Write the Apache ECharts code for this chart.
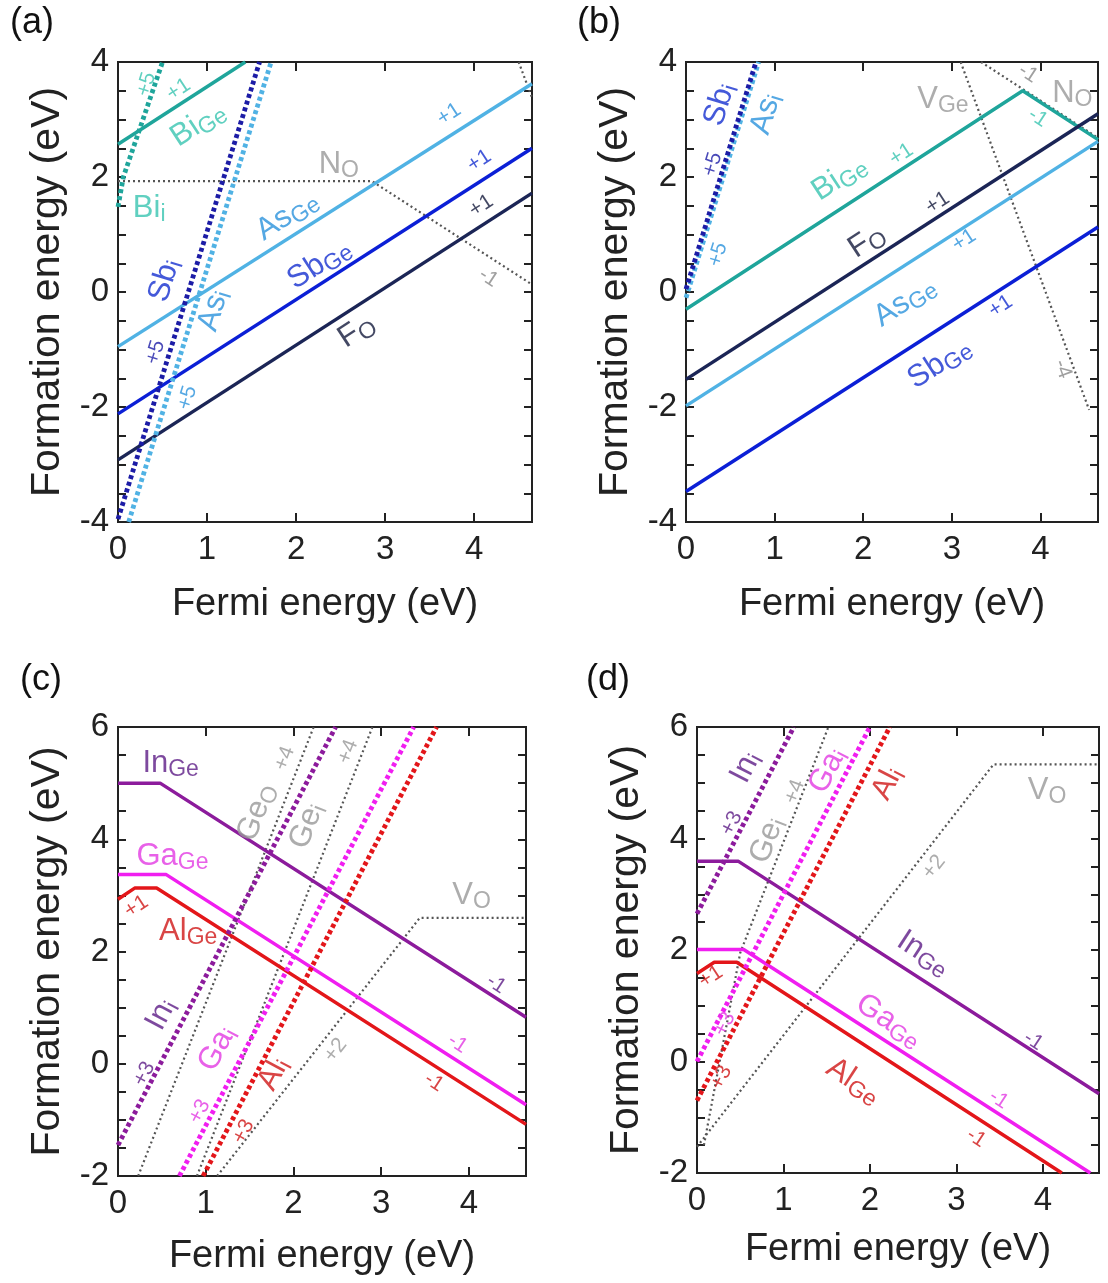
<!DOCTYPE html>
<html><head><meta charset="utf-8">
<script src="https://cdn.jsdelivr.net/npm/echarts@6.0.0/dist/echarts.min.js"></script>
<style>html,body{margin:0;padding:0;background:#fff}#c{width:1108px;height:1283px}</style>
</head><body><div id="c"></div><script>
// ---------- DATA (Fermi energy eV, formation energy eV) ----------
const xTicks = [0, 1, 2, 3, 4];
const xMax = 4.65;
// Panel (a)
const a_BiGe = [[0, 2.57], [1.43, 4.0]];
const a_Bii  = [[0, 1.48], [0.06, 2.0], [0.5, 4.0]];
const a_AsGe = [[0, -0.95], [4.65, 3.62]];
const a_SbGe = [[0, -2.12], [4.65, 2.5]];
const a_FO   = [[0, -2.92], [4.65, 1.72]];
const a_Sbi  = [[0, -3.95], [1.59, 4.0]];
const a_Asi  = [[0.12, -4.0], [1.72, 4.0]];
const a_NO   = [[0, 1.93], [2.85, 1.93], [4.65, 0.13]];
const a_VGe  = [[4.5, 4.0], [4.65, 3.38]];
// Panel (b)
const b_BiGe = [[0, -0.3], [3.8, 3.5], [4.65, 2.65]];
const b_FO   = [[0, -1.52], [4.65, 3.1]];
const b_AsGe = [[0, -1.98], [4.65, 2.62]];
const b_SbGe = [[0, -3.47], [4.65, 1.13]];
const b_Sbi  = [[0, 0.05], [0.79, 4.0]];
const b_Asi  = [[0, -0.1], [0.82, 4.0]];
const b_VGe  = [[3.1, 4.0], [4.55, -2.05]];
const b_NO   = [[3.33, 4.0], [4.65, 2.68]];
// Panel (c)
const c_InGe = [[0, 5.0], [0.48, 5.0], [4.65, 0.83]];
const c_GaGe = [[0, 3.37], [0.55, 3.37], [4.65, -0.73]];
const c_AlGe = [[0, 2.93], [0.19, 3.13], [0.44, 3.13], [4.65, -1.08]];
const c_Ini  = [[0, -1.45], [2.48, 6.0]];
const c_Gai  = [[0.7, -2.0], [3.37, 6.0]];
const c_Ali  = [[0.97, -2.0], [3.63, 6.0]];
const c_GeO  = [[0.23, -2.0], [2.23, 6.0]];
const c_Gei  = [[0.9, -2.0], [2.9, 6.0]];
const c_VO   = [[1.13, -2.0], [3.44, 2.6], [4.65, 2.6]];
// Panel (d)
const d_InGe = [[0, 3.59], [0.48, 3.59], [4.65, -0.58]];
const d_GaGe = [[0, 2.01], [0.54, 2.01], [4.55, -2.0]];
const d_AlGe = [[0, 1.58], [0.2, 1.78], [0.46, 1.78], [4.22, -2.0]];
const d_Ini  = [[0, 2.65], [1.12, 6.0]];
const d_Gai  = [[0, 0.0], [2.0, 6.0]];
const d_Ali  = [[0, -0.7], [2.23, 6.0]];
const d_Gei  = [[0.08, -1.5], [0.5, 1.95], [1.52, 6.0]];
const d_VO   = [[0, -1.53], [3.43, 5.33], [4.65, 5.33]];

// ---------- STYLE ----------
const FONT = 'Liberation Sans, Arial, Helvetica, sans-serif';
const C = {
  teal: '#1fa59b', tealT: '#38c4b0',
  lblue: '#50b2e4', lblueT: '#2a92dc',
  blue: '#0b1fd6', blueT: '#1530d0',
  navy: '#1b2556', navyT: '#141a3c',
  sbi: '#1c1ca6',
  gray: '#555555', grayT: '#999999',
  purple: '#8c1b9c', purpleT: '#5c1c86',
  mag: '#f01ef0', magT: '#e23ae2',
  red: '#e3161a', redT: '#d01616'
};
const grids = [
  {left: 118, top: 62, width: 414, height: 460},
  {left: 686, top: 62, width: 412, height: 460},
  {left: 118, top: 727, width: 408, height: 449},
  {left: 697, top: 727, width: 402, height: 446}
];
const yRanges = [[-4, 4], [-4, 4], [-2, 6], [-2, 6]];
const nameGapsX = [64, 64, 62, 58];

const xAxes = [], yAxes = [];
grids.forEach((g, i) => {
  const axLine = {show: true, onZero: false, lineStyle: {color: '#222', width: 2}};
  const tick = {show: true, inside: true, length: 9, lineStyle: {color: '#222', width: 2}};
  xAxes.push({gridIndex: i, type: 'value', min: 0, max: xMax, interval: 1, position: 'bottom',
    axisLine: axLine, axisTick: tick, splitLine: {show: false},
    axisLabel: {fontSize: 33, color: '#222', margin: 11, fontFamily: FONT,
      formatter: v => xTicks.indexOf(Math.round(v * 1000) / 1000) >= 0 ? String(Math.round(v)) : ''},
    name: 'Fermi energy (eV)', nameLocation: 'middle', nameGap: nameGapsX[i],
    nameTextStyle: {fontSize: 38, color: '#222', fontFamily: FONT}});
  xAxes.push({gridIndex: i, type: 'value', min: 0, max: xMax, interval: 1, position: 'top',
    axisLine: axLine, axisTick: tick, splitLine: {show: false}, axisLabel: {show: false}});
  yAxes.push({gridIndex: i, type: 'value', min: yRanges[i][0], max: yRanges[i][1], interval: 0.5, position: 'left',
    axisLine: axLine, axisTick: Object.assign({}, tick, {length: 8}), splitLine: {show: false},
    axisLabel: {fontSize: 33, color: '#222', margin: 9, fontFamily: FONT,
      formatter: v => (Math.abs(v / 2 - Math.round(v / 2)) < 1e-6 ? String(v) : '')},
    name: 'Formation energy (eV)', nameLocation: 'middle', nameGap: 50, nameRotate: 90,
    nameTextStyle: {fontSize: 41, color: '#222', fontFamily: FONT}});
  yAxes.push({gridIndex: i, type: 'value', min: yRanges[i][0], max: yRanges[i][1], interval: 0.5, position: 'right',
    axisLine: axLine, axisTick: Object.assign({}, tick, {length: 8}), splitLine: {show: false}, axisLabel: {show: false}});
});

const series = [];
function ln(p, data, color, kind, z) {
  let ls;
  if (kind === 'solid') ls = {color, width: 3.5, type: 'solid'};
  else if (kind === 'dash') ls = {color, width: 4.8, type: [4, 3]};
  else ls = {color, width: 2.2, type: [2, 3]};
  series.push({type: 'line', xAxisIndex: 2 * p, yAxisIndex: 2 * p, data, showSymbol: false, symbol: 'none',
    silent: true, lineStyle: ls, z: z || 2, animation: false});
}
// (a)
ln(0, a_NO, C.gray, 'dot'); ln(0, a_VGe, C.gray, 'dot');
ln(0, a_BiGe, C.teal, 'solid'); ln(0, a_Bii, C.teal, 'dash');
ln(0, a_AsGe, C.lblue, 'solid'); ln(0, a_SbGe, C.blue, 'solid'); ln(0, a_FO, C.navy, 'solid');
ln(0, a_Asi, C.lblue, 'dash', 3); ln(0, a_Sbi, C.sbi, 'dash', 3);
// (b)
ln(1, b_VGe, C.gray, 'dot'); ln(1, b_NO, C.gray, 'dot');
ln(1, b_BiGe, C.teal, 'solid'); ln(1, b_FO, C.navy, 'solid'); ln(1, b_AsGe, C.lblue, 'solid'); ln(1, b_SbGe, C.blue, 'solid');
ln(1, b_Asi, C.lblue, 'dash', 3); ln(1, b_Sbi, C.sbi, 'dash', 3);
// (c)
ln(2, c_GeO, C.gray, 'dot'); ln(2, c_Gei, C.gray, 'dot'); ln(2, c_VO, C.gray, 'dot');
ln(2, c_InGe, C.purple, 'solid'); ln(2, c_GaGe, C.mag, 'solid'); ln(2, c_AlGe, C.red, 'solid');
ln(2, c_Ini, C.purple, 'dash', 3); ln(2, c_Gai, C.mag, 'dash', 3); ln(2, c_Ali, C.red, 'dash', 3);
// (d)
ln(3, d_Gei, C.gray, 'dot'); ln(3, d_VO, C.gray, 'dot');
ln(3, d_InGe, C.purple, 'solid'); ln(3, d_GaGe, C.mag, 'solid'); ln(3, d_AlGe, C.red, 'solid');
ln(3, d_Ini, C.purple, 'dash', 3); ln(3, d_Gai, C.mag, 'dash', 3); ln(3, d_Ali, C.red, 'dash', 3);

// ---------- ANNOTATIONS: [text, x, y, rotate, color] ----------
const sp = (a, b) => '{m|' + a + '}{s|' + b + '}';
const notes = [
  [ // (a)
    [sp('Bi', 'Ge'), 0.9, 2.92, 33, C.tealT], [sp('Bi', 'i'), 0.35, 1.45, 0, C.tealT],
    [sp('N', 'O'), 2.48, 2.22, 0, C.grayT], [sp('As', 'Ge'), 1.9, 1.33, 33, C.lblueT],
    [sp('Sb', 'Ge'), 2.26, 0.49, 33, C.blueT], [sp('F', 'O'), 2.68, -0.68, 33, C.navyT],
    [sp('Sb', 'i'), 0.52, 0.2, 73, C.blueT], [sp('As', 'i'), 1.07, -0.32, 73, C.lblueT],
    ['+5', 0.32, 3.61, 73, C.tealT], ['+1', 0.68, 3.52, 33, C.tealT],
    ['+1', 3.72, 3.09, 33, C.lblueT], ['+1', 4.06, 2.28, 33, C.blueT], ['+1', 4.08, 1.5, 33, C.navyT],
    ['-1', 4.16, 0.25, -33, '#888'], ['+5', 0.42, -1.05, 73, C.sbi], ['+5', 0.78, -1.84, 73, C.lblueT]
  ],
  [ // (b)
    [sp('Sb', 'i'), 0.38, 3.26, 73, C.blueT], [sp('As', 'i'), 0.9, 3.1, 73, C.lblueT],
    ['+5', 0.3, 2.22, 73, C.sbi], ['+5', 0.36, 0.65, 73, C.lblueT],
    [sp('V', 'Ge'), 2.9, 3.35, 0, C.grayT], ['-1', 3.86, 3.8, -33, '#888'],
    [sp('N', 'O'), 4.36, 3.46, 0, C.grayT], ['-1', 3.97, 3.03, -33, C.tealT],
    ['+1', 2.43, 2.39, 33, C.tealT], [sp('Bi', 'Ge'), 1.73, 1.98, 33, C.tealT],
    ['+1', 2.84, 1.55, 33, C.navyT], [sp('F', 'O'), 2.04, 0.88, 33, C.navyT],
    ['+1', 3.14, 0.9, 33, C.lblueT], [sp('As', 'Ge'), 2.47, -0.17, 33, C.lblueT],
    ['+1', 3.55, -0.25, 33, C.blueT], [sp('Sb', 'Ge'), 2.86, -1.24, 33, C.blueT],
    ['-4', 4.25, -1.34, -70, '#888']
  ],
  [ // (c)
    [sp('In', 'Ge'), 0.6, 5.35, 0, C.purpleT], [sp('Ga', 'Ge'), 0.62, 3.7, 0, C.magT],
    ['+1', 0.21, 2.8, 33, C.redT], [sp('Al', 'Ge'), 0.8, 2.36, 0, C.redT],
    [sp('Ge', 'O'), 1.58, 4.48, 69, C.grayT], ['+4', 1.9, 5.44, 69, C.grayT],
    [sp('Ge', 'i'), 2.15, 4.24, 69, C.grayT], ['+4', 2.62, 5.56, 69, C.grayT],
    [sp('V', 'O'), 4.03, 3.0, 0, C.grayT],
    ['-1', 4.31, 1.42, -33, C.purpleT], ['-1', 3.87, 0.36, -33, C.magT], ['-1', 3.6, -0.33, -33, C.redT],
    [sp('In', 'i'), 0.49, 0.88, 62, C.purpleT], ['+3', 0.3, -0.18, 62, C.purpleT],
    [sp('Ga', 'i'), 1.13, 0.27, 62, C.magT], ['+3', 0.93, -0.85, 62, C.magT],
    [sp('Al', 'i'), 1.77, -0.18, 62, C.redT], ['+3', 1.43, -1.21, 62, C.redT],
    ['+2', 2.48, 0.24, 52, C.grayT]
  ],
  [ // (d)
    [sp('In', 'i'), 0.56, 5.28, 63, C.purpleT], ['+3', 0.4, 4.27, 63, C.purpleT],
    [sp('Ge', 'i'), 0.81, 3.97, 69, C.grayT], ['+4', 1.13, 4.84, 69, C.grayT],
    [sp('Ga', 'i'), 1.51, 5.22, 63, C.magT], [sp('Al', 'i'), 2.2, 4.99, 63, C.redT],
    [sp('V', 'O'), 4.05, 4.87, 0, C.grayT], ['+2', 2.74, 3.49, 52, C.grayT],
    [sp('In', 'Ge'), 2.62, 1.94, -33, C.purpleT], ['-1', 3.89, 0.37, -33, C.purpleT],
    [sp('Ga', 'Ge'), 2.22, 0.73, -33, C.magT], ['-1', 3.49, -0.68, -33, C.magT],
    [sp('Al', 'Ge'), 1.81, -0.35, -33, C.redT], ['-1', 3.23, -1.37, -33, C.redT],
    ['+1', 0.16, 1.52, 33, C.redT], ['+3', 0.32, 0.67, 63, C.magT], ['+3', 0.28, -0.29, 63, C.redT]
  ]
];
notes.forEach((list, p) => {
  list.forEach(n => {
    const isSpecies = n[0].indexOf('{') === 0;
    const label = {show: true, position: 'inside', formatter: n[0], rotate: n[3], color: n[4],
      fontFamily: FONT, fontSize: isSpecies ? 31 : 21};
    if (isSpecies) label.rich = {
      m: {fontSize: 31, lineHeight: 36, verticalAlign: 'middle', fontFamily: FONT, color: n[4]},
      s: {fontSize: 23, lineHeight: 16, verticalAlign: 'bottom', fontFamily: FONT, color: n[4]}
    };
    series.push({type: 'scatter', xAxisIndex: 2 * p, yAxisIndex: 2 * p, symbolSize: 1, silent: true, z: 10,
      animation: false, itemStyle: {color: 'rgba(0,0,0,0)'}, label, labelLayout: {hideOverlap: false},
      data: [[n[1], n[2]]]});
  });
});

const letters = [['(a)', 33, 26], ['(b)', 600, 26], ['(c)', 43, 683], ['(d)', 609, 683]];
const graphic = letters.map(l => ({type: 'text', left: l[1] - 23, top: l[2] - 21,
  style: {text: l[0], fontSize: 36, fill: '#111', fontFamily: FONT}}));

const chart = echarts.init(document.getElementById('c'), null, {renderer: 'canvas'});
chart.setOption({
  animation: false, backgroundColor: '#fff',
  textStyle: {fontFamily: FONT},
  grid: grids.map(g => Object.assign({show: true, borderColor: '#222', borderWidth: 2, backgroundColor: 'transparent', containLabel: false}, g)),
  xAxis: xAxes, yAxis: yAxes, series, graphic
});
</script></body></html>
